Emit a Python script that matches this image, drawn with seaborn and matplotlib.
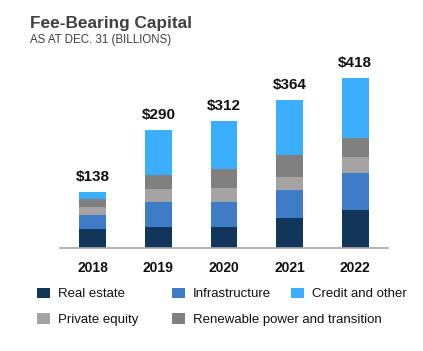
import seaborn as sns
import pandas as pd
import matplotlib.pyplot as plt
from matplotlib.patches import Patch

years = ['2018', '2019', '2020', '2021', '2022']
real_estate = [46, 52, 51, 73, 93]
infrastructure = [36, 61, 63, 71, 91]
private_equity = [18, 32, 34, 32, 39]
renewable = [20, 34, 46, 54, 49]
credit = [18, 111, 118, 134, 146]
totals = [138, 290, 312, 364, 418]

series = ['Real estate', 'Infrastructure', 'Private equity',
          'Renewable power and transition', 'Credit and other']
colors = ['#123659', '#3e7cc8', '#a5a3a3', '#808080', '#3caefe']

df = pd.DataFrame({'Real estate': real_estate,
                   'Infrastructure': infrastructure,
                   'Private equity': private_equity,
                   'Renewable power and transition': renewable,
                   'Credit and other': credit}, index=years)
cum = df.cumsum(axis=1)

sns.set_theme(style='white')
plt.rcParams['font.family'] = ['Liberation Sans', 'DejaVu Sans']

W, H = 423, 351
fig = plt.figure(figsize=(W / 100, H / 100), dpi=100)
ax = fig.add_axes([60 / W, 103 / H, 328 / W, 208 / H])

# stacked bars: draw cumulative totals from the top segment down
for name, c in zip(reversed(series), reversed(colors)):
    sns.barplot(x=years, y=cum[name].values, color=c, saturation=1,
                width=0.41, linewidth=0, ax=ax)

ax.bar_label(ax.containers[0], labels=[f'${t}' for t in totals],
             padding=6, fontsize=11, fontweight='bold', color='#111111')

ax.set_xlim(-0.5, 4.5)
ax.set_ylim(0, 512)
ax.set_yticks([])
ax.set_xlabel('')
ax.set_ylabel('')
sns.despine(ax=ax, left=True)
ax.spines['bottom'].set_color('#a6a6a6')
ax.spines['bottom'].set_linewidth(1.2)
ax.tick_params(axis='x', length=0, pad=9)
for lbl in ax.get_xticklabels():
    lbl.set_fontweight('bold')
    lbl.set_fontsize(10)
    lbl.set_color('#111111')

fig.text(30 / W, 1 - 28 / H, 'Fee-Bearing Capital', fontsize=12.4,
         fontweight='bold', color='#404040', va='baseline')
fig.text(30 / W, 1 - 43 / H, 'AS AT DEC. 31 (BILLIONS)', fontsize=8.3,
         color='#404040', va='baseline')

# legend: two rows with uneven spacing, one entry each
legend_pos = {'Real estate': (37, 294), 'Infrastructure': (172, 294),
              'Credit and other': (291, 294), 'Private equity': (37, 319.5),
              'Renewable power and transition': (172, 319.5)}
for name, c in zip(series, colors):
    x, y = legend_pos[name]
    fig.legend(handles=[Patch(facecolor=c, edgecolor='none', label=name)],
               loc='center left', bbox_to_anchor=(x / W, 1 - y / H),
               frameon=False, borderpad=0, borderaxespad=0,
               handlelength=1.0, handleheight=0.87, handletextpad=0.6,
               fontsize=9.5, labelcolor='#111111')

fig.savefig('out.png', dpi=100)
